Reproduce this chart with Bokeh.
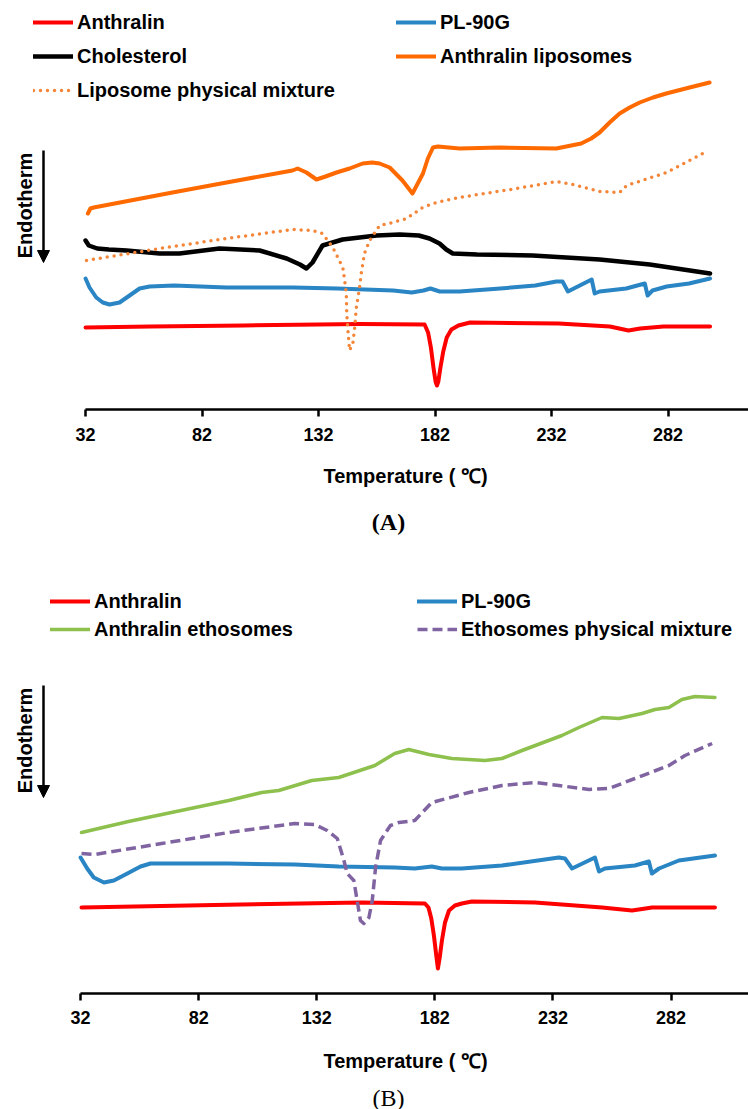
from bokeh.plotting import figure
from bokeh.layouts import column
from bokeh.models import (Range1d, FixedTicker, Legend, LegendItem, Label, Arrow,
                          NormalHead)
from bokeh.embed import file_html
from bokeh.resources import INLINE

# ---------------- data (temperature in deg C, heat flow in arbitrary units, offset traces) ----
tick_values = [32, 82, 132, 182, 232, 282]

# Panel A
a_T_anthralin = [32, 60, 100, 150, 177.5, 179, 180.2, 181.3, 182.2, 182.8, 183.4, 184.3, 185.5,
                 187, 189, 192, 197, 235, 257, 265, 270, 280, 300]
a_y_anthralin = [82, 83, 84, 85.5, 85, 77, 62, 42, 28, 24, 28, 42, 58,
                 72, 80, 84, 87, 86, 83, 79, 81, 83, 83]

a_T_pl90g = [32, 33.7, 36.6, 39.4, 42.3, 46.6, 50.9, 55.2, 59.5, 70, 92.5, 121, 140, 164, 172, 177,
             180, 184, 192.5, 210, 225, 234, 236.7, 239, 249.2, 250.5, 252.6, 264, 272, 273.2, 275.3,
             281.4, 291, 300]
a_y_pl90g = [131, 122, 112, 107, 105, 107, 114, 121, 123, 124, 122, 122, 121, 119, 117, 119,
             121, 118, 118, 121, 124, 128, 128, 118, 130, 116, 118, 121, 126, 114, 119,
             123, 126, 131]

a_T_chol = [32, 33.4, 37, 42, 49.6, 63.8, 72.3, 89.5, 106.7, 118.3, 124, 126.8, 129.4, 133.7,
            142.3, 156.9, 166.8, 175, 179.6, 183.9, 186.8, 189.6, 200, 223.8, 252.6, 274.1, 300]
a_y_chol = [169, 164, 161, 160, 159, 156, 156, 161, 159, 151, 145, 141, 147, 164,
            170, 174, 175, 174, 171, 166, 160, 156, 155, 154, 150, 145, 136]

a_T_lipo = [33, 34.1, 35.5, 69.3, 92.5, 120.8, 123, 126.8, 131.1, 135, 139.7, 145.3, 150.9, 155,
            158.2, 162.5, 168, 172.3, 176.8, 178.9, 181.1, 183.2, 192.5, 209.7, 234, 244.7, 249,
            252.6, 256.9, 261.2, 265.5, 269.8, 275.5, 281.2, 291.2, 299.8]
a_y_lipo = [196, 201, 202, 217, 227, 239, 241, 237, 230, 233, 237, 241, 246, 247,
            246, 242, 229, 216, 236, 251, 262, 263, 261, 262, 261, 266, 271,
            277, 287, 296, 302, 307, 312, 316, 322, 327]

a_T_mix = [32.4, 63.8, 92.5, 120.8, 129.4, 133.7, 138.1, 142.4, 143.2, 143.9, 144.1, 144.6, 145.3,
           146.7, 147.5, 148.2, 149.6, 150.3, 151.7, 153.9, 158.2, 163.8, 169.8, 176.6, 182.6, 192.5,
           217, 234.1, 241, 252.6, 261.2, 264.2, 281.4, 296.8]
a_y_mix = [149, 161, 171, 180, 179, 176, 162, 142, 129, 116, 96, 79, 59,
           66, 82, 102, 122, 136, 156, 169, 184, 187, 191, 202, 207, 212,
           221, 228, 225, 218, 217, 224, 237, 256]

# Panel B
b_T_anthralin = [32.4, 100, 151.1, 177.8, 179.3, 180.5, 181.6, 182.6, 183.3, 184, 185, 186.3, 188,
                 190.5, 193.4, 197.7, 224.4, 252.8, 265.5, 274, 300.6]
b_y_anthralin = [86, 89, 91, 90, 86, 75, 58, 38, 25, 35, 53, 71, 83,
                 88, 90, 92, 91, 86, 83, 86, 86]

b_T_pl90g = [32, 34.8, 37.6, 41.9, 46.1, 51.8, 57.4, 61.6, 94.7, 122.7, 141.3, 165, 173.5, 180.7,
             185, 193.4, 210.4, 234.5, 237.1, 240.1, 249.8, 251.5, 254, 266.7, 272.6, 273.9, 276.9,
             285.3, 300.6]
b_y_pl90g = [136, 125, 116, 111, 113, 120, 127, 130, 130, 129, 127, 126, 125, 127,
             125, 125, 128, 136, 135, 125, 136, 122, 125, 128, 132, 120, 125,
             133, 138]

b_T_etho = [32.4, 52.3, 94.7, 108.7, 115.9, 129.9, 141.3, 156.6, 165, 171, 179.5, 189.2, 203.2,
            210.4, 218.9, 235.8, 243, 252.8, 260, 269.7, 275.2, 281.1, 286.6, 292.1, 300.6]
b_y_etho = [161, 172, 193, 201, 203, 213, 216, 228, 240, 244, 239, 235, 233,
            235, 243, 258, 266, 276, 275, 280, 284, 286, 294, 297, 296]

b_T_mix = [32.4, 37.9, 66.3, 94.7, 122.7, 131.2, 136.4, 140.7, 143.5, 144.9, 147.7, 149.1, 150.5,
           151.9, 154.1, 155.5, 156.9, 159, 163.2, 166.7, 173.5, 180.7, 196.4, 210.4, 224.4, 234.5,
           247.3, 255.7, 266.7, 281.1, 287.9, 299.4]
b_y_mix = [140, 139, 150, 161, 170, 169, 163, 155, 133, 120, 113, 93, 73,
           70, 76, 93, 126, 153, 168, 171, 173, 191, 201, 208, 211, 208,
           204, 205, 215, 228, 238, 250]

# ---------------- styling ----------------
SANS = "Liberation Sans"
SERIF = "Liberation Serif"
RED = "#ff0000"
BLUE = "#2a85c4"
BLACK = "#000000"
ORANGE = "#ff6a00"
ORANGE_DOT = "#f4863a"
GREEN = "#8dc04d"
PURPLE = "#8064a2"


def make_panel(height, frame_h, x_start, x_end, legend_cols, endo, tick_standoff, series):
    p = figure(width=748, height=height, output_backend="svg", toolbar_location=None,
               x_range=Range1d(x_start, x_end), y_range=Range1d(0, frame_h),
               y_axis_location=None, min_border_left=0, min_border_right=0,
               min_border_top=0, min_border_bottom=height - frame_h)
    p.grid.visible = False
    p.outline_line_color = None
    p.background_fill_color = "white"
    p.border_fill_color = "white"

    ax = p.xaxis[0]
    ax.ticker = FixedTicker(ticks=tick_values)
    ax.bounds = (32, x_end)
    ax.axis_line_width = 2.5
    ax.axis_line_color = "black"
    ax.major_tick_line_width = 2.5
    ax.major_tick_line_color = "black"
    ax.major_tick_in = 0
    ax.major_tick_out = 7
    ax.minor_tick_line_color = None
    ax.major_label_text_font = SANS
    ax.major_label_text_font_size = "18px"
    ax.major_label_text_font_style = "bold"
    ax.major_label_text_color = "black"
    ax.major_label_standoff = tick_standoff

    renderers = {}
    for key, T, y, color, width, dash, cap in series:
        r = p.line(T, y, line_color=color, line_width=width, line_dash=dash,
                   line_cap=cap, line_join="round")
        renderers[key] = r

    for (lx, ly, spacing, keys) in legend_cols:
        items = [LegendItem(label=k, renderers=[renderers[k]]) for k in keys]
        lg = Legend(items=items, location=(lx, ly), orientation="vertical",
                    glyph_width=40, glyph_height=24, label_height=24, label_standoff=4,
                    spacing=spacing, padding=0, margin=0, border_line_alpha=0,
                    background_fill_alpha=0, label_text_font=SANS,
                    label_text_font_size="20px", label_text_font_style="bold",
                    label_text_color="black", label_text_baseline="middle")
        p.add_layout(lg)

    tx, ty, ax_x, ay0, ay1 = endo
    p.add_layout(Label(x=tx, y=ty, x_units="screen", y_units="screen", text="Endotherm",
                       angle=90, angle_units="deg", text_align="center",
                       text_baseline="middle", text_font=SANS, text_font_size="20px",
                       text_font_style="bold", text_color="black"))
    p.add_layout(Arrow(x_start=ax_x, y_start=ay0, x_end=ax_x, y_end=ay1,
                       start_units="screen", end_units="screen", line_width=2.5,
                       line_color="black",
                       end=NormalHead(size=12, fill_color="black", line_color="black")))
    return p


def make_caption(height, title_y, tag_y, tag_text, tag_style):
    """Strip below a panel holding the x-axis title and the panel tag."""
    c = figure(width=748, height=height, output_backend="svg", toolbar_location=None,
               x_range=Range1d(0, 1), y_range=Range1d(0, 1),
               x_axis_location=None, y_axis_location=None, min_border=0)
    c.grid.visible = False
    c.outline_line_color = None
    c.background_fill_color = "white"
    c.border_fill_color = "white"
    c.add_layout(Label(x=405, y=title_y, x_units="screen", y_units="screen",
                       text="Temperature ( \u2103)", text_align="center",
                       text_baseline="middle", text_font=SANS, text_font_size="20px",
                       text_font_style="bold", text_color="black"))
    c.add_layout(Label(x=388, y=tag_y, x_units="screen", y_units="screen",
                       text=tag_text, text_align="center", text_baseline="middle",
                       text_font=SERIF, text_font_size="24px", text_font_style=tag_style,
                       text_color="black"))
    return c


seriesA = [
    ("Anthralin", a_T_anthralin, a_y_anthralin, RED, 4, "solid", "round"),
    ("PL-90G", a_T_pl90g, a_y_pl90g, BLUE, 4, "solid", "round"),
    ("Cholesterol", a_T_chol, a_y_chol, BLACK, 4.5, "solid", "round"),
    ("Anthralin liposomes", a_T_lipo, a_y_lipo, ORANGE, 4, "solid", "round"),
    ("Liposome physical mixture", a_T_mix, a_y_mix, ORANGE_DOT, 3.5, "0 7", "round"),
]
frameA = 409
pA = make_panel(
    height=450, frame_h=frameA, x_start=-4.5, x_end=316.5,
    legend_cols=[(33, frameA - 102, 10, ["Anthralin", "Cholesterol", "Liposome physical mixture"]),
                 (396, frameA - 68, 10, ["PL-90G", "Anthralin liposomes"])],
    endo=(24, frameA - 205, 43, frameA - 150, frameA - 262),
    tick_standoff=11, series=seriesA)
cA = make_caption(height=110, title_y=110 - 25, tag_y=110 - 71.5, tag_text="(A)", tag_style="bold")

seriesB = [
    ("Anthralin", b_T_anthralin, b_y_anthralin, RED, 4, "solid", "round"),
    ("PL-90G", b_T_pl90g, b_y_pl90g, BLUE, 4, "solid", "round"),
    ("Anthralin ethosomes", b_T_etho, b_y_etho, GREEN, 3.5, "solid", "round"),
    ("Ethosomes physical mixture", b_T_mix, b_y_mix, PURPLE, 3.5, "10 5", "butt"),
]
frameB = 433
pB = make_panel(
    height=475, frame_h=frameB, x_start=-1.9, x_end=314.8,
    legend_cols=[(50, frameB - 81, 4, ["Anthralin", "Anthralin ethosomes"]),
                 (417, frameB - 81, 4, ["PL-90G", "Ethosomes physical mixture"])],
    endo=(24, frameB - 180, 43, frameB - 125, frameB - 237),
    tick_standoff=10, series=seriesB)
cB = make_caption(height=74, title_y=74 - 25, tag_y=74 - 62, tag_text="(B)", tag_style="normal")

layout = column(pA, cA, pB, cB, spacing=0)
open("out.html", "w").write(file_html(layout, INLINE))
